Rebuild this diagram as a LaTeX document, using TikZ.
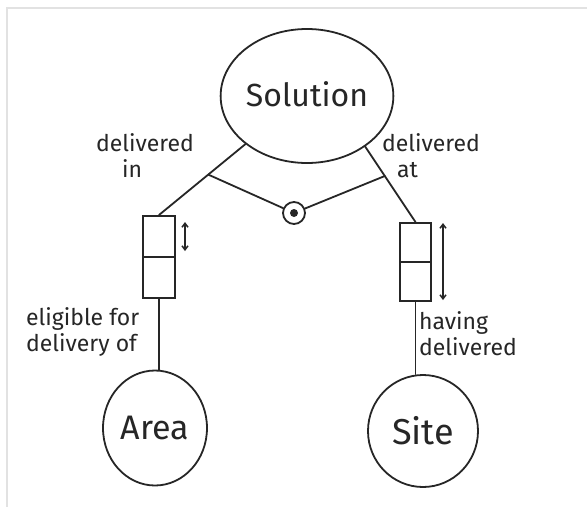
\documentclass[tikz,border=0pt]{standalone}
\usepackage{fontspec}
\setmainfont{Fira Sans}
\usetikzlibrary{shapes.geometric,arrows.meta,calc}
\definecolor{ink}{HTML}{262626}
\definecolor{frame}{HTML}{E2E2E2}
\tikzset{
  sketch/.style={draw=ink, line width=1.8pt},
  entity/.style={sketch, ellipse, inner sep=0pt, text=ink},
  rolebox/.style={sketch, rectangle, inner sep=0pt, anchor=north},
  hubnode/.style={sketch, circle, minimum size=22pt, inner sep=0pt},
  wire/.style={draw=ink, line width=1.8pt, line cap=round},
  dblarrow/.style={draw=ink, line width=1.5pt, {Straight Barb[length=4pt,width=6pt]}-{Straight Barb[length=4pt,width=6pt]}},
  lbl/.style={text=ink, font=\fontsize{23}{26}\selectfont, inner sep=0pt, align=left, anchor=north west},
}
\begin{document}
\begin{tikzpicture}[x=1pt,y=-1pt]
  \useasboundingbox (0,0) rectangle (587,507);
  \fill[white] (0,0) rectangle (587,507);
  % light frame along the top and left edges
  \draw[frame, line width=1.5pt] (7,507) -- (7,8) -- (587,8);

  % entities
  \node[entity, minimum width=142pt, minimum height=134pt, font=\fontsize{32}{34}\selectfont] (sol) at (307,96) {\raisebox{4pt}{Solution}};
  \node[entity, minimum width=104pt, minimum height=115pt, font=\fontsize{34}{36}\selectfont] (area) at (155,428) {Area};
  \node[entity, minimum width=110pt, minimum height=112pt, font=\fontsize{36}{38}\selectfont] (site) at (423,431) {Site};

  % role boxes, each split into two cells
  \node[rolebox, minimum width=32pt, minimum height=82pt] (lbox) at (159,215) {};
  \node[rolebox, minimum width=31pt, minimum height=78pt] (rbox) at (415.5,222) {};
  \draw[wire, line cap=butt] (lbox.west) -- (lbox.east);
  \draw[wire, line cap=butt] (rbox.west) -- (rbox.east);

  % role connectors
  \draw[wire] (sol.218) -- (lbox.north);
  \draw[wire] (sol.-41) -- (rbox.north);
  \draw[wire] (lbox.south) -- (lbox.south |- area.north);
  \draw[wire] (rbox.south) -- (rbox.south |- site.north);

  % uniqueness hub joining both roles
  \node[hubnode] (hub) at (294,213) {};
  \fill[ink] (hub.center) circle (4pt);
  \coordinate (lj) at ($(sol.218)!0.43!(lbox.north)$);
  \coordinate (rj) at ($(sol.-41)!0.39!(rbox.north)$);
  \draw[wire] (lj) -- (hub);
  \draw[wire] (rj) -- (hub);

  % multiplicity arrows
  \coordinate (la1) at (185,222);
  \coordinate (la2) at (185,251);
  \coordinate (ra1) at (443,223);
  \coordinate (ra2) at (443,300);
  \draw[dblarrow] (la1) -- (la2);
  \draw[dblarrow] (ra1) -- (ra2);

  % role labels
  \node[lbl] (t1) at (96,133) {delivered\\\hspace{26pt}in};
  \node[lbl] (t2) at (382,133) {delivered\\\hspace{15pt}at};
  \node[lbl] (t3) at (26,307) {eligible for\\delivery of};
  \node[lbl] (t4) at (419,311) {having\\delivered};
\end{tikzpicture}
\end{document}
